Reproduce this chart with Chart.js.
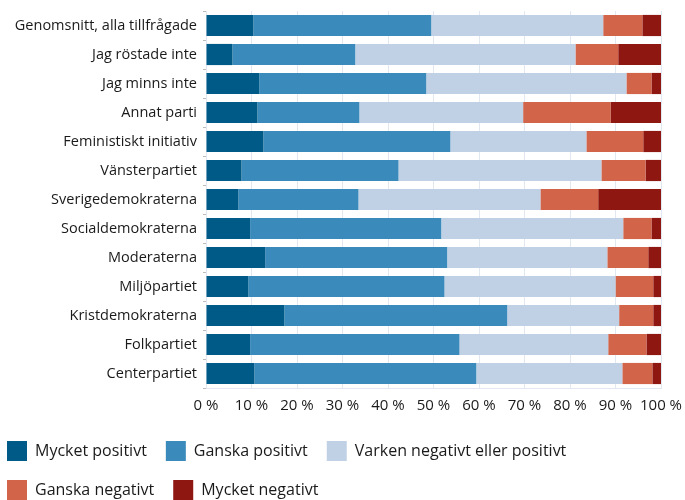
<!DOCTYPE html>
<html>
<head>
<meta charset="utf-8">
<script src="https://cdn.jsdelivr.net/npm/chart.js@4"></script>
<style>
  html, body { margin: 0; padding: 0; background: #fff; }
  #wrap { width: 685px; height: 500px; }
</style>
</head>
<body>
<div id="wrap"><canvas id="chart"></canvas></div>
<script>
const categories = [
    'Genomsnitt, alla tillfrågade',
    'Jag röstade inte',
    'Jag minns inte',
    'Annat parti',
    'Feministiskt initiativ',
    'Vänsterpartiet',
    'Sverigedemokraterna',
    'Socialdemokraterna',
    'Moderaterna',
    'Miljöpartiet',
    'Kristdemokraterna',
    'Folkpartiet',
    'Centerpartiet'
];

const seriesNames = [
    'Mycket positivt',
    'Ganska positivt',
    'Varken negativt eller positivt',
    'Ganska negativt',
    'Mycket negativt'
];

const mycketPositivt = [10.4, 5.8, 11.7, 11.3, 12.6, 7.8, 7.1, 9.7, 13.0, 9.3, 17.2, 9.7, 10.6];
const ganskaPositivt = [39.1, 27.0, 36.7, 22.4, 41.1, 34.5, 26.4, 42.0, 40.0, 43.1, 49.0, 46.0, 48.8];
const varken         = [37.8, 48.4, 44.0, 36.0, 29.9, 44.6, 40.0, 40.0, 35.2, 37.6, 24.6, 32.7, 32.1];
const ganskaNegativt = [8.6, 9.4, 5.5, 19.2, 12.5, 9.7, 12.7, 6.2, 9.0, 8.3, 7.5, 8.4, 6.6];
const mycketNegativt = [4.1, 9.4, 2.1, 11.1, 3.9, 3.4, 13.8, 2.1, 2.8, 1.7, 1.7, 3.2, 1.9];

const colors = ['#005a87', '#3a8bbb', '#c0d1e6', '#d2644a', '#8f1711'];

const allValues = [mycketPositivt, ganskaPositivt, varken, ganskaNegativt, mycketNegativt];

const datasets = allValues.map(function(values, i) {
    return {
        label: seriesNames[i],
        data: values,
        backgroundColor: colors[i],
        borderWidth: 0,
        barPercentage: 0.73,
        categoryPercentage: 1
    };
});

// move the legend a bit so it lines up with the reference
const legendNudge = {
    id: 'legendNudge',
    afterLayout(chart) {
        chart.legend.left = -12;
        chart.legend.top = 422;
    }
};

const ctx = document.getElementById('chart').getContext('2d');
const chart = new Chart(ctx, {
    type: 'bar',
    data: { labels: categories, datasets: datasets },
    plugins: [legendNudge],
    options: {
        indexAxis: 'y',
        responsive: true,
        maintainAspectRatio: false,
        animation: false,
        layout: { padding: { top: 11, right: 24, bottom: -12, left: 0 } },
        plugins: {
            tooltip: { enabled: false },
            legend: {
                position: 'bottom',
                align: 'start',
                labels: {
                    boxWidth: 20,
                    boxHeight: 20,
                    padding: 19,
                    color: '#1a1a1a',
                    font: { family: 'Open Sans', size: 16 }
                }
            }
        },
        scales: {
            x: {
                stacked: true,
                min: 0,
                max: 100,
                ticks: {
                    stepSize: 10,
                    padding: 9,
                    maxRotation: 0,
                    autoSkip: false,
                    color: '#1a1a1a',
                    font: { family: 'Open Sans', size: 15 },
                    callback: function(v) { return v + ' %'; }
                },
                grid: { color: '#e2e8f2', drawTicks: false },
                border: { color: '#e2e8f2' },
                afterFit: function(scale) {
                    scale.paddingLeft = 0;
                    scale.paddingRight = 0;
                }
            },
            y: {
                stacked: true,
                ticks: {
                    padding: 6,
                    color: '#1a1a1a',
                    font: { family: 'Open Sans', size: 14.5 }
                },
                grid: { drawOnChartArea: false, tickLength: 3, color: '#bbbbbb' },
                border: { display: false },
                afterFit: function(scale) {
                    scale.width = 206;
                    scale.paddingTop = 0;
                    scale.paddingBottom = 0;
                }
            }
        }
    }
});
</script>
</body>
</html>
